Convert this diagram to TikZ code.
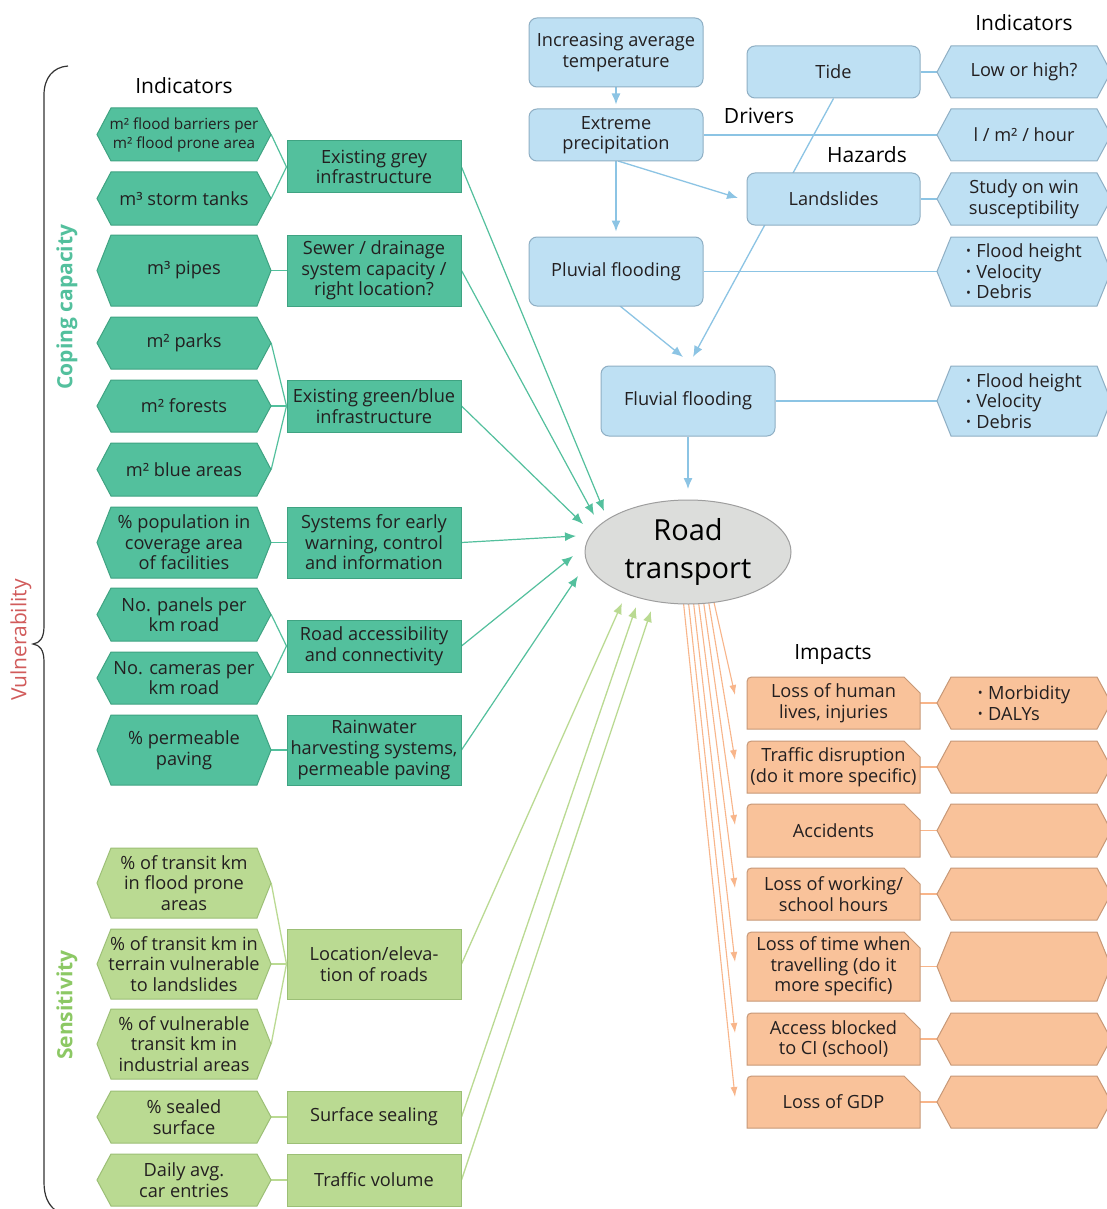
\documentclass[tikz,border=0pt]{standalone}
\usepackage{fontspec}
\setmainfont{Open Sans}
\usetikzlibrary{shapes.geometric,arrows.meta,backgrounds,calc}
\definecolor{dg}{HTML}{53C09D}
\definecolor{dgb}{HTML}{3FA382}
\definecolor{lg}{HTML}{BADA92}
\definecolor{lgb}{HTML}{9CBF76}
\definecolor{bl}{HTML}{BEE0F3}
\definecolor{blb}{HTML}{8FAFC4}
\definecolor{bll}{HTML}{8CC4E4}
\definecolor{orf}{HTML}{F9C29A}
\definecolor{orb}{HTML}{C79877}
\definecolor{orl}{HTML}{F8B58A}
\definecolor{gy}{HTML}{DCDDDB}
\definecolor{gyb}{HTML}{9E9E9E}
\definecolor{txt}{HTML}{231F20}
\definecolor{sens}{HTML}{8CC864}
\definecolor{vul}{HTML}{D15B5B}
\definecolor{brc}{HTML}{333333}
\newcommand\bul{\raisebox{0.1em}{\fontsize{13}{13}\selectfont•}\hspace{0.3em}}
% hexagon: name, shape style, label style, x1, y1, x2, y2, text
\newcommand\hx[8]{%
  \path[#2] (#4,{(#5+#7)/2}) -- ({#4+14},#5) -- ({#6-14},#5) -- (#6,{(#5+#7)/2}) -- ({#6-14},#7) -- ({#4+14},#7) -- cycle;
  \node[lbl,#3, minimum width={#6-#4}, minimum height={#7-#5}] (#1) at ({(#4+#6)/2},{(#5+#7)/2}) {#8};}
% rectangle: name, style, x1,y1,x2,y2, text
\newcommand\rb[7]{%
  \node[lbl,#2, minimum width={#5-#3}, minimum height={#6-#4}] (#1) at ({(#3+#5)/2},{(#4+#6)/2}) {#7};}
% impact box: name, y1, y2, text
\newcommand\imp[4]{%
  \path[orsh] (747,#3) -- (747,{#2+10}) .. controls (747,#2) .. (757,#2) -- (904,#2) -- (920,{#2+16}) -- (920,#3) -- cycle;
  \node[lbl, minimum width=173, minimum height={#3-#2}] (#1) at (833.5,{(#2+#3)/2}) {#4};}
\begin{document}
\begin{tikzpicture}[x=1pt,y=-1pt,
  lbl/.style={inner sep=0pt, align=center, text=txt, font=\fontsize{18.2}{20.6}\selectfont},
  smalltxt/.style={font=\fontsize{15.3}{19}\selectfont},
  head/.style={inner sep=0pt, text=black, font=\fontsize{21}{24}\selectfont},
  dgsh/.style={fill=dg, draw=dgb, line width=1},
  lgsh/.style={fill=lg, draw=lgb, line width=1},
  blsh/.style={fill=bl, draw=blb, line width=1},
  orsh/.style={fill=orf, draw=orb, line width=1},
  dgbox/.style={fill=dg, draw=dgb, line width=1},
  lgbox/.style={fill=lg, draw=lgb, line width=1},
  blbox/.style={fill=bl, draw=blb, line width=1, rounded corners=8},
  cg/.style={draw=dg, line width=1.2},
  cga/.style={cg, -{Latex[length=11,width=9]}},
  cl/.style={draw=lg, line width=1.3},
  cla/.style={cl, -{Latex[length=11,width=9]}},
  cb/.style={draw=bll, line width=1.3},
  cba/.style={cb, -{Latex[length=11,width=9]}},
  co/.style={draw=orl, line width=1.1},
  coa/.style={co, -{Latex[length=10,width=7]}},
  brace/.style={draw=brc, line width=1.2}
]
\useasboundingbox (0,0) rectangle (1107,1209);
\begin{pgfonlayer}{background}
\fill[white] (0,0) rectangle (1107,1209);
\end{pgfonlayer}

% ---------- headings ----------
\node[head] (hindl) at (184,86) {Indicators};
\node[head] (hindr) at (1024,23) {Indicators};
\node[head] (hdriv) at (759,116) {Drivers};
\node[head] (hhaz) at (867,155) {Hazards};
\node[head] (himp) at (833,655) {Impacts};

% ---------- side labels ----------
\node[rotate=90, inner sep=0, text=dg, font=\fontsize{21}{24}\selectfont\bfseries] (lcop) at (67,307) {Coping capacity};
\node[rotate=90, inner sep=0, text=sens, font=\fontsize{21}{24}\selectfont\bfseries] (lsens) at (67,1005) {Sensitivity};
\node[rotate=90, inner sep=0, text=vul, font=\fontsize{21}{24}\selectfont] (lvul) at (21,640) {Vulnerability};
\path[brace] (68,66) .. controls (53,67) and (44,78) .. (44,95) -- (44,626)
  .. controls (44,638) and (40,643) .. (33,644) .. controls (40,645) and (44,650) .. (44,662)
  -- (44,1182) .. controls (44,1196) and (48,1204) .. (55,1210);

% ---------- left indicator hexagons ----------
\hx{h1}{dgsh}{smalltxt}{97}{108}{271}{161}{m² flood barriers per\\m² flood prone area}
\hx{h2}{dgsh}{}{97}{172}{271}{225}{m³ storm tanks}
\hx{h3}{dgsh}{}{97}{235}{271}{306}{m³ pipes}
\hx{h4}{dgsh}{}{97}{317}{271}{369}{m² parks}
\hx{h5}{dgsh}{}{97}{380}{271}{432}{m² forests}
\hx{h6}{dgsh}{}{97}{443}{271}{496}{m² blue areas}
\hx{h7}{dgsh}{}{97}{507}{271}{578}{\% population in\\coverage area\\of facilities}
\hx{h8}{dgsh}{}{97}{588}{271}{641}{No. panels per\\km road}
\hx{h9}{dgsh}{}{97}{652}{271}{704}{No. cameras per\\km road}
\hx{h10}{dgsh}{}{97}{715}{271}{785}{\% permeable\\paving}
\hx{h11}{lgsh}{}{97}{848}{271}{918}{\% of transit km\\in flood prone\\areas}
\hx{h12}{lgsh}{}{97}{929}{271}{999}{\% of transit km in\\terrain vulnerable\\to landslides}
\hx{h13}{lgsh}{}{97}{1009}{271}{1079}{\% of vulnerable\\transit km in\\industrial areas}
\hx{h14}{lgsh}{}{97}{1091}{271}{1143}{\% sealed\\surface}
\hx{h15}{lgsh}{}{97}{1154}{271}{1206}{Daily avg.\\car entries}

% ---------- middle rectangles ----------
\rb{rA}{dgbox}{287}{141}{461}{193}{Existing grey\\infrastructure}
\rb{rB}{dgbox}{287}{235}{461}{306}{Sewer / drainage\\system capacity /\\right location?}
\rb{rC}{dgbox}{287}{380}{461}{432}{Existing green/blue\\infrastructure}
\rb{rD}{dgbox}{287}{507}{461}{578}{Systems for early\\warning, control\\and information}
\rb{rE}{dgbox}{287}{620}{461}{672}{Road accessibility\\and connectivity}
\rb{rF}{dgbox}{287}{715}{461}{785}{Rainwater\\harvesting systems,\\permeable paving}
\rb{rG}{lgbox}{287}{929}{461}{999}{Location/eleva-\\tion of roads}
\rb{rH}{lgbox}{287}{1091}{461}{1143}{Surface sealing}
\rb{rI}{lgbox}{287}{1154}{461}{1206}{Traffic volume}

% ---------- road transport ----------
\node[ellipse, fill=gy, draw=gyb, line width=1, minimum width=206, minimum height=104, inner sep=0,
  align=center, font=\fontsize{29}{38}\selectfont, text=black] (road) at (688,552) {Road\\transport};

% ---------- drivers / hazards ----------
\rb{temp}{blbox}{529}{18}{703}{87}{Increasing average\\temperature}
\rb{precip}{blbox}{529}{109}{703}{161}{Extreme\\precipitation}
\rb{tide}{blbox}{747}{46}{920}{98}{Tide}
\rb{land}{blbox}{747}{173}{920}{225}{Landslides}
\rb{pluv}{blbox}{529}{237}{703}{306}{Pluvial flooding}
\rb{fluv}{blbox}{601}{366}{775}{436}{Fluvial flooding}

% ---------- right indicator hexagons ----------
\hx{ilow}{blsh}{}{937}{46}{1111}{98}{Low or high?}
\hx{ihour}{blsh}{}{937}{109}{1111}{161}{l / m² / hour}
\hx{istudy}{blsh}{}{937}{173}{1111}{225}{Study on win\\susceptibility}
\hx{ipluv}{blsh}{align=left}{937}{237}{1111}{306}{\bul Flood height\\\bul Velocity\\\bul Debris}
\hx{ifluv}{blsh}{align=left}{937}{366}{1111}{436}{\bul Flood height\\\bul Velocity\\\bul Debris}

% ---------- impacts ----------
\imp{i1}{677}{729}{Loss of human\\lives, injuries}
\imp{i2}{741}{793}{Traffic disruption\\(do it more specific)}
\imp{i3}{804}{857}{Accidents}
\imp{i4}{868}{920}{Loss of working/\\school hours}
\imp{i5}{932}{1001}{Loss of time when\\travelling (do it\\more specific)}
\imp{i6}{1013}{1065}{Access blocked\\to CI (school)}
\imp{i7}{1076}{1128}{Loss of GDP}
\hx{j1}{orsh}{align=left}{937}{677}{1111}{729}{\bul Morbidity\\\bul DALYs}
\hx{j2}{orsh}{}{937}{741}{1111}{793}{}
\hx{j3}{orsh}{}{937}{804}{1111}{857}{}
\hx{j4}{orsh}{}{937}{868}{1111}{920}{}
\hx{j5}{orsh}{}{937}{932}{1111}{1001}{}
\hx{j6}{orsh}{}{937}{1013}{1111}{1065}{}
\hx{j7}{orsh}{}{937}{1076}{1111}{1128}{}

% ---------- coordinates for connector ends ----------
\coordinate (tA) at (604,511);
\coordinate (tB) at (594,515);
\coordinate (tC) at (583,524);
\coordinate (tD) at (576,536);
\coordinate (tE) at (573,556);
\coordinate (tF) at (578,576);
\coordinate (tG) at (622,603);
\coordinate (tH) at (636,607);
\coordinate (tI) at (651,611);
\coordinate (sPL) at (618,161);
\coordinate (tPL) at (738,198);
\coordinate (sPF) at (620,306);
\coordinate (tPF) at (683,357);
\coordinate (tTF) at (693,357);
\coordinate (tRD) at (688,489);
\foreach \k/\sx/\ty in {1/713/695, 2/708/760, 3/703/825, 4/698/888, 5/693/962, 6/688/1033, 7/683/1097}{
  \coordinate (os\k) at (\sx,598);
  \coordinate (ot\k) at (735,\ty);
}

% ---------- connectors ----------
\begin{pgfonlayer}{background}
\draw[cg] (h1.east) -- (rA.west);
\draw[cg] (h2.east) -- (rA.west);
\draw[cg] (h3.east) -- (rB.west);
\draw[cg] (h4.east) -- (rC.west);
\draw[cg] (h5.east) -- (rC.west);
\draw[cg] (h6.east) -- (rC.west);
\draw[cg] (h7.east) -- (rD.west);
\draw[cg] (h8.east) -- (rE.west);
\draw[cg] (h9.east) -- (rE.west);
\draw[cg] (h10.east) -- (rF.west);
\draw[cl] (h11.east) -- (rG.west);
\draw[cl] (h12.east) -- (rG.west);
\draw[cl] (h13.east) -- (rG.west);
\draw[cl] (h14.east) -- (rH.west);
\draw[cl] (h15.east) -- (rI.west);

\draw[cga] (rA.east) -- (tA);
\draw[cga] (rB.east) -- (tB);
\draw[cga] (rC.east) -- (tC);
\draw[cga] (rD.east) -- (tD);
\draw[cga] (rE.east) -- (tE);
\draw[cga] (rF.east) -- (tF);
\draw[cla] (rG.east) -- (tG);
\draw[cla] (rH.east) -- (tH);
\draw[cla] (rI.east) -- (tI);

\draw[cba, shorten >=4] (temp.south) -- (precip.north);
\draw[cba, shorten >=5] (precip.south) -- (pluv.north);
\draw[cba] (sPL) -- (tPL);
\draw[cb] (precip.east) -- (ihour.west);
\draw[cb] (tide.east) -- (ilow.west);
\draw[cb] (land.east) -- (istudy.west);
\draw[cb] (pluv.east) -- (ipluv.west);
\draw[cb] (fluv.east) -- (ifluv.west);
\draw[cba] (tide.south) -- (tTF);
\draw[cba] (sPF) -- (tPF);
\draw[cba] (fluv.south) -- (tRD);

\foreach \k in {1,...,7}{
  \draw[co] (i\k.east) -- (j\k.west);
  \draw[coa] (os\k) -- (ot\k);
}
\end{pgfonlayer}
\end{tikzpicture}
\end{document}
